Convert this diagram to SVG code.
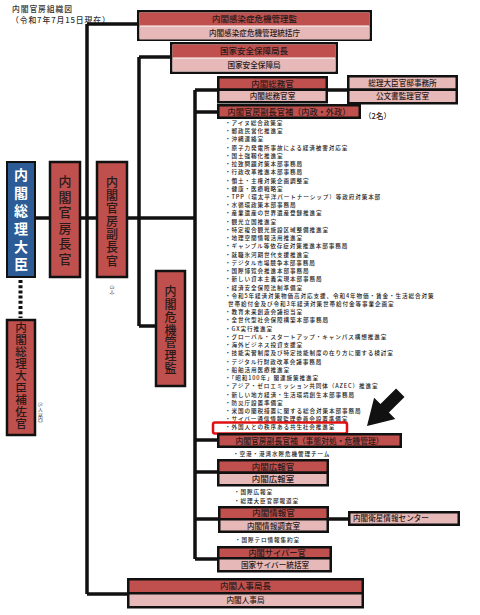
<svg xmlns="http://www.w3.org/2000/svg" width="480" height="615" viewBox="0 0 480 615">
<style>
.c{stroke:#111;stroke-width:3.5;fill:none}
.r{fill:#c0504d;stroke:#111;stroke-width:2.5}
.p{fill:#e6b9b8;stroke:#111;stroke-width:2.5}
.rn{fill:#c0504d}
.pn{fill:#e6b9b8}
.fw{fill:#fff;stroke:#111;stroke-width:2.5}
text{font-family:"Noto Sans CJK JP","Noto Sans CJK SC",sans-serif;fill:#2a1a1a;font-weight:500}
.m{text-anchor:middle}
.h{font-size:8.5px}
.s{font-size:7.6px}
.li{font-size:5.6px;letter-spacing:0.9px;fill:#1a1a1a}
.vb{writing-mode:vertical-rl;text-anchor:middle}
.vt{writing-mode:vertical-rl;text-anchor:middle;font-size:4.8px;fill:#333;font-weight:400}
</style>
<rect width="480" height="615" fill="#fff"/>
<text x="12" y="11.5" font-size="7.8" letter-spacing="0.9" style="fill:#333">内閣官房組織図</text>
<text x="11" y="23" font-size="7.8" letter-spacing="0.9" style="fill:#333">（令和7年7月15日現在）</text>

<g id="connectors">
<path class="c" d="M87 24V594M87 24H139M87 594H129"/>
<path class="c" d="M139 57V326M139 57H172M139 326H157"/>
<path class="c" d="M35 218H195"/>
<path class="c" d="M195 90V559M195 90H219M327 90H349M195 112H219M195 440H219M195 472H219M195 519H220M328 519H350M195 559H219"/>
<line x1="20.5" y1="280" x2="20.5" y2="318" stroke="#111" stroke-width="4" stroke-dasharray="3 2.2"/>
</g>

<g id="n-pm">
<rect x="7" y="162" width="28" height="115" fill="#2c5b96" stroke="#111" stroke-width="2"/>
<text class="vb" x="21" y="221.4" font-size="14" font-weight="bold" letter-spacing="3.8" style="fill:#fff;font-weight:bold">内閣総理大臣</text>
</g>

<g id="n-hosakan">
<rect class="r" x="7" y="320" width="28" height="115" stroke-width="2"/>
<text class="vb" x="21" y="376.25" font-size="11.5" letter-spacing="0.5">内閣総理大臣補佐官</text>
<text class="vt" x="40.5" y="412.5">（5人以内）</text>
</g>

<g id="n-chokan">
<rect class="r" x="50" y="162" width="30" height="115" stroke-width="2"/>
<text class="vb" x="65" y="221.3" font-size="13" letter-spacing="2.6">内閣官房長官</text>
</g>

<g id="n-fukuchokan">
<rect class="r" x="97" y="162" width="30" height="115" stroke-width="2"/>
<text class="vb" x="112" y="222.1" font-size="12" letter-spacing="1.17">内閣官房副長官</text>
<text class="vt" x="112" y="290" style="font-size:4.5px">（3人）</text>
</g>

<g id="n-kikikanri">
<rect class="r" x="156" y="271" width="29" height="115" stroke-width="2"/>
<text class="vb" x="170.5" y="330.3" font-size="12" letter-spacing="0.67">内閣危機管理監</text>
</g>

<g id="n-kansensho">
<rect class="fw" x="138.25" y="11.25" width="232.5" height="28.5"/>
<rect class="rn" x="139.5" y="12.5" width="230" height="13"/>
<rect class="pn" x="139.5" y="26.5" width="230" height="13"/>
<text class="m h" x="254.5" y="22.3">内閣感染症危機管理監</text>
<text class="m s" x="254.5" y="36.2">内閣感染症危機管理統括庁</text>
</g>

<g id="n-anpo">
<rect class="fw" x="171.25" y="43.25" width="165.5" height="29.5"/>
<rect class="rn" x="172.5" y="44.5" width="163" height="13"/>
<rect class="pn" x="172.5" y="58.5" width="163" height="13"/>
<text class="m h" x="254" y="54.3">国家安全保障局長</text>
<text class="m s" x="254" y="68.2">国家安全保障局</text>
</g>

<g id="n-somukan">
<rect class="r" x="218.25" y="77.25" width="108.5" height="12.5"/>
<rect class="p" x="218.25" y="89.75" width="108.5" height="12.5"/>
<text class="m h" x="272.5" y="86.6">内閣総務官</text>
<text class="m s" x="272.5" y="99">内閣総務官室</text>
</g>

<g id="n-kantei">
<rect class="p" x="348.25" y="76.25" width="108.5" height="13.5"/>
<text class="m s" x="402.5" y="85.9">総理大臣官邸事務所</text>
</g>
<g id="n-kobunsho">
<rect class="p" x="348.25" y="89.75" width="108.5" height="13.5"/>
<text class="m s" x="402.5" y="99.4">公文書監理官室</text>
</g>

<g id="n-hosa1">
<rect class="r" x="218.25" y="105.25" width="141.5" height="12.5"/>
<text class="m" x="289" y="114.6" font-size="8.2">内閣官房副長官補（内政・外政）</text>
<text class="m" x="377.5" y="118.5" font-size="7.5">（2名）</text>
<text class="li"><tspan x="225" y="124.9">・アイヌ総合政策室</tspan><tspan x="225" y="133.1">・郵政民営化推進室</tspan><tspan x="225" y="141.4">・沖縄連絡室</tspan><tspan x="225" y="149.6">・原子力発電所事故による経済被害対応室</tspan><tspan x="225" y="157.8">・国土強靱化推進室</tspan><tspan x="225" y="166.1">・拉致問題対策本部事務局</tspan><tspan x="225" y="174.3">・行政改革推進本部事務局</tspan><tspan x="225" y="182.5">・領土・主権対策企画調整室</tspan><tspan x="225" y="190.8">・健康・医療戦略室</tspan><tspan x="225" y="199">・TPP（環太平洋パートナーシップ）等政府対策本部</tspan><tspan x="225" y="207.2">・水循環政策本部事務局</tspan><tspan x="225" y="215.4">・産業遺産の世界遺産登録推進室</tspan><tspan x="225" y="223.7">・観光立国推進室</tspan><tspan x="225" y="231.9">・特定複合観光施設区域整備推進室</tspan><tspan x="225" y="240.1">・地理空間情報活用推進室</tspan><tspan x="225" y="248.4">・ギャンブル等依存症対策推進本部事務局</tspan><tspan x="225" y="256.6">・就職氷河期世代支援推進室</tspan><tspan x="225" y="264.8">・デジタル市場競争本部事務局</tspan><tspan x="225" y="273">・国際博覧会推進本部事務局</tspan><tspan x="225" y="281.3">・新しい資本主義実現本部事務局</tspan><tspan x="225" y="289.5">・経済安全保障法制準備室</tspan><tspan x="225" y="297.7">・令和5年経済対策物価高対応支援、令和4年物価・賃金・生活総合対策</tspan><tspan x="228" y="306">世帯給付金及び令和3年経済対策世帯給付金等事業企画室</tspan><tspan x="225" y="314.2">・教育未来創造会議担当室</tspan><tspan x="225" y="322.4">・全世代型社会保障構築本部事務局</tspan><tspan x="225" y="330.7">・GX実行推進室</tspan><tspan x="225" y="338.9">・グローバル・スタートアップ・キャンパス構想推進室</tspan><tspan x="225" y="347.1">・海外ビジネス投資支援室</tspan><tspan x="225" y="355.3">・技能実習制度及び特定技能制度の在り方に関する検討室</tspan><tspan x="225" y="363.6">・デジタル行財政改革会議事務局</tspan><tspan x="225" y="371.8">・船舶活用医療推進室</tspan><tspan x="225" y="380">・「昭和100年」関連施策推進室</tspan><tspan x="225" y="388.3">・アジア・ゼロエミッション共同体（AZEC）推進室</tspan><tspan x="225" y="396.5">・新しい地方経済・生活環境創生本部事務局</tspan><tspan x="225" y="404.7">・防災庁設置準備室</tspan><tspan x="225" y="413">・米国の関税措置に関する総合対策本部事務局</tspan><tspan x="225" y="421.2">・サイバー通信情報監理委員会設置準備室</tspan><tspan x="225" y="429.4">・外国人との秩序ある共生社会推進室</tspan></text>
<rect x="213" y="422.5" width="134" height="11" rx="2" fill="none" stroke="#e01010" stroke-width="2.5"/>
<polygon points="367,426 395.3,418.9 388.9,412.5 404.5,396.9 396.1,388.5 380.5,404.1 374.1,397.7" fill="#111"/>
</g>

<g id="n-hosa2">
<rect class="r" x="218.25" y="434.25" width="182.5" height="12.5"/>
<text class="m" x="309.5" y="443.6" font-size="7.8">内閣官房副長官補（事態対処・危機管理）</text>
<text class="li" x="233" y="455.6">・空港・港湾水際危機管理チーム</text>
</g>

<g id="n-koho">
<rect class="r" x="218.25" y="460.25" width="109.5" height="12.5"/>
<rect class="p" x="218.25" y="472.75" width="109.5" height="12.5"/>
<text class="m h" x="273" y="469.6">内閣広報官</text>
<text class="m h" x="273" y="482.3">内閣広報室</text>
<text class="li"><tspan x="234" y="494.2">・国際広報室</tspan><tspan x="234" y="502.5">・総理大臣官邸報道室</tspan></text>
</g>

<g id="n-joho">
<rect class="r" x="219.25" y="507.25" width="108.5" height="12"/>
<rect class="p" x="219.25" y="519.25" width="108.5" height="12.5"/>
<text class="m h" x="273.5" y="516.3">内閣情報官</text>
<text class="m s" x="273.5" y="528.6">内閣情報調査室</text>
<text class="li" x="235" y="542.1">・国際テロ情報集約室</text>
</g>

<g id="n-eisei">
<rect class="p" x="349.25" y="512.25" width="109.5" height="12.5"/>
<text class="s" x="353" y="521.3">内閣衛星情報センター</text>
</g>

<g id="n-cyber">
<rect class="r" x="218.25" y="547.25" width="112.5" height="11"/>
<rect class="p" x="218.25" y="558.25" width="112.5" height="13"/>
<text class="m" x="277" y="555.8" font-size="8.2">内閣サイバー官</text>
<text class="m s" x="275" y="567.8">国家サイバー統括室</text>
</g>

<g id="n-jinji">
<rect class="r" x="128.25" y="579.25" width="234.5" height="14"/>
<rect class="p" x="128.25" y="593.25" width="234.5" height="14"/>
<text class="m h" x="245.5" y="589.3">内閣人事局長</text>
<text class="m s" x="245.5" y="603.2">内閣人事局</text>
</g>
</svg>
